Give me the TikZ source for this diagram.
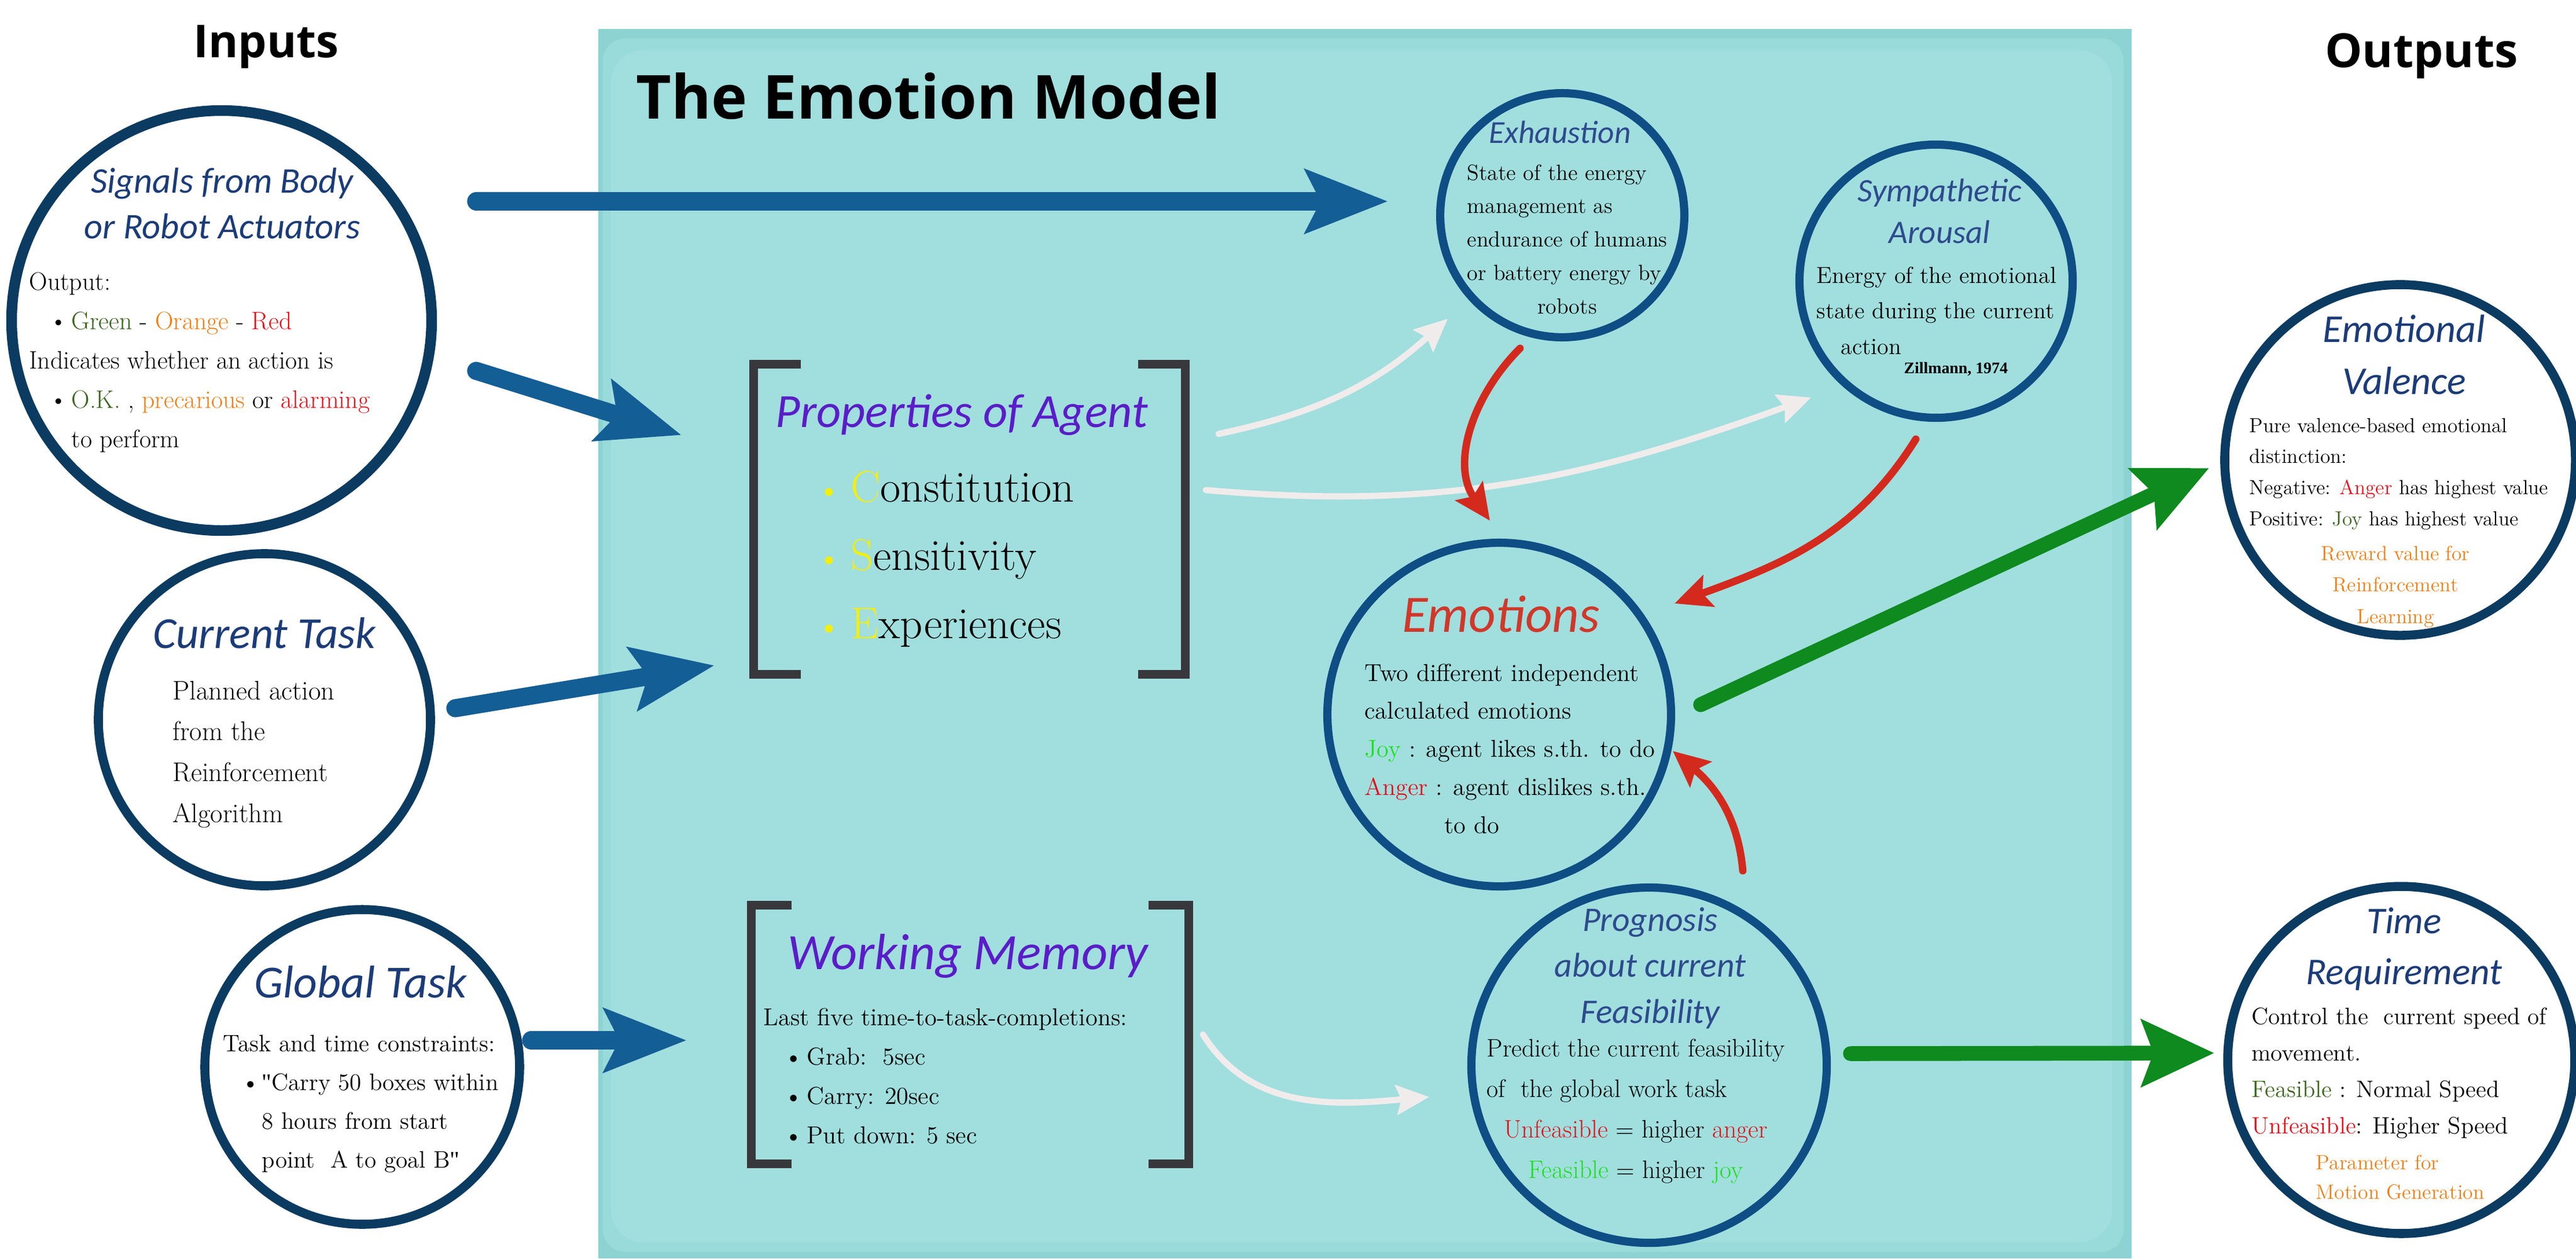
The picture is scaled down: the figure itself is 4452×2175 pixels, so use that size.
\documentclass[tikz,border=0pt]{standalone}
\usepackage{fontspec}
\usetikzlibrary{arrows.meta}
\newfontfamily\carl{Carlito}
\newfontfamily\osans{Open Sans}
\newfontfamily\tnr{Liberation Serif}
\newfontfamily\dqf{Liberation Serif}[Ligatures=TeXOff]
\newcommand{\tbl}[2][l]{\begin{tabular}[t]{@{}#1@{}}#2\end{tabular}}
\newcommand{\bul}[2]{\hspace*{#1}\makebox[#2][l]{\hspace*{-3.5pt}\textbullet}}
\newcommand{\ybul}{\makebox[16.2pt][l]{\hspace*{-5pt}\textcolor{yel}{\fontsize{22}{22}\selectfont\textbullet}}}
\newcommand{\bodyfx}[3]{\fontsize{#2}{#3}\selectfont\addfontfeatures{FakeBold=#1}}
\newcommand{\bodyf}[2]{\bodyfx{0.9}{#1}{#2}}
\newcommand{\sq}{{\dqf"}}
\definecolor{navyA}{HTML}{0B3B61}
\definecolor{navyB}{HTML}{0E4E84}
\definecolor{ttlA}{HTML}{1B3C78}
\definecolor{ttlB}{HTML}{2E4B8D}
\definecolor{purp}{HTML}{5A1DC8}
\definecolor{emored}{HTML}{D0382A}
\definecolor{rred}{HTML}{E3121B}
\definecolor{dgreen}{HTML}{3A661C}
\definecolor{lime}{HTML}{1EE01E}
\definecolor{orng}{HTML}{F07F12}
\definecolor{yel}{HTML}{F2EE10}
\definecolor{arrblue}{HTML}{145E96}
\definecolor{arrgreen}{HTML}{0E8A1E}
\definecolor{arrred}{HTML}{D42A1E}
\definecolor{arrwhite}{HTML}{F0ECEC}
\definecolor{tealin}{HTML}{A1DEDE}
\definecolor{tealmid}{HTML}{99DADA}
\definecolor{tealedge}{HTML}{8DD3D3}
\definecolor{brkc}{HTML}{38383C}
\begin{document}
\begin{tikzpicture}[x=0.35224pt,y=-0.35224pt,
  outring/.style={circle, draw=navyA, fill=white, line width=5.5pt, inner sep=0pt},
  inring/.style={circle, draw=navyB, line width=5pt, inner sep=0pt},
  ttl/.style={anchor=base, inner sep=0pt},
  txt/.style={anchor=base west, inner sep=0pt},
  brk/.style={draw=brkc, line width=5.3pt, line join=miter, line cap=butt},
  bluearr/.style={draw=arrblue, line width=11pt, line cap=round, -{Stealth[length=50pt,width=38pt,inset=9pt]}},
  greenarr/.style={draw=arrgreen, line width=9pt, line cap=round, -{Stealth[length=44pt,width=40pt,inset=7pt]}},
  redarr/.style={draw=arrred, line width=4.5pt, line cap=round, -{Stealth[length=22pt,width=20pt,inset=4pt]}},
  whitearr/.style={draw=arrwhite, line width=3.8pt, line cap=round, -{Stealth[length=20pt,width=18pt,inset=3pt]}},
  boxarea/.style={inner sep=0pt, draw=none}
]
\useasboundingbox (0,0) rectangle (4452,2175);
\fill[white] (0,0) rectangle (4452,2175);

% model area
\node[fill=tealedge, minimum width=933.4pt, minimum height=748.5pt, inner sep=0pt] (model) at (2359,1112.5) {};
\node[fill=tealmid, rounded corners=14pt, minimum width=926pt, minimum height=739pt, inner sep=0pt] (modelb) at (2356,1115) {};
\node[fill=tealin, rounded corners=20pt, minimum width=914pt, minimum height=726pt, inner sep=0pt] (modelc) at (2353,1117) {};
\node[txt, font=\osans\bfseries\fontsize{37}{40}\selectfont] (title) at (1099,205) {The Emotion Model};

\node[ttl, font=\osans\bfseries\fontsize{27.6}{30}\selectfont] (inputs) at (460,99) {Inputs};
\node[ttl, font=\osans\bfseries\fontsize{28.6}{30}\selectfont] (outputs) at (4185,116) {Outputs};

% ---------- input circles
\node[outring, line width=6.5pt, minimum size=255.7pt] (sig) at (383,554) {};
\node[ttl, text=ttlA, font=\carl\itshape\fontsize{22}{28}\selectfont] (sigt) at (384,333) {\tbl[c]{Signals from Body\\ or Robot Actuators}};
\node[txt, font=\bodyf{15.4}{24}] (sigb) at (50,501) {\tbl{Output:\\
\bul{15.9pt}{9.8pt}\textcolor{dgreen}{Green} - \textcolor{orng}{Orange} - \textcolor{rred}{Red}\\
Indicates whether an action is\\
\bul{15.9pt}{9.8pt}\textcolor{dgreen}{O.K.} , \textcolor{orng}{precarious} or \textcolor{rred}{alarming}\\
\hspace*{25.7pt}to perform}};

\node[outring, minimum size=202.2pt] (cur) at (457,1244) {};
\node[ttl, text=ttlA, font=\carl\itshape\fontsize{27}{30}\selectfont] (curt) at (457,1120) {Current Task};
\node[txt, font=\bodyf{16.4}{25}] (curb) at (298,1209) {\tbl{Planned action\\ from the\\ Reinforcement\\ Algorithm}};

\node[outring, minimum size=191.6pt] (glob) at (626,1844) {};
\node[ttl, text=ttlA, font=\carl\itshape\fontsize{28}{30}\selectfont] (globt) at (623,1724) {Global Task};
\node[txt, font=\bodyf{14.5}{23.6}] (globb) at (385,1817) {\tbl{Task and time constraints:\\
\bul{14.8pt}{8.8pt}\sq Carry 50 boxes within\\
\hspace*{23.6pt}8 hours from start\\
\hspace*{23.6pt}point\ \ A to goal B\sq}};

% ---------- bracket boxes
\node[boxarea, minimum width=262.4pt, minimum height=188.4pt] (props) at (1675.5,897.5) {};
\draw[brk] ([shift={(82,0)}]props.north west) -- (props.north west) -- (props.south west) -- ([shift={(82,0)}]props.south west);
\draw[brk] ([shift={(-82,0)}]props.north east) -- (props.north east) -- (props.south east) -- ([shift={(-82,0)}]props.south east);
\node[ttl, text=purp, font=\carl\itshape\fontsize{29}{32}\selectfont] (propst) at (1662,738) {Properties of Agent};
\node[txt, font=\bodyf{27}{41.6}] (propsb) at (1424,867) {\tbl{\ybul\textcolor{yel}{C}onstitution\\ \ybul\textcolor{yel}{S}ensitivity\\ \ybul\textcolor{yel}{E}xperiences}};

\node[boxarea, minimum width=265.9pt, minimum height=157.1pt] (wm) at (1676.5,1788) {};
\draw[brk] ([shift={(70,0)}]wm.north west) -- (wm.north west) -- (wm.south west) -- ([shift={(70,0)}]wm.south west);
\draw[brk] ([shift={(-70,0)}]wm.north east) -- (wm.north east) -- (wm.south east) -- ([shift={(-70,0)}]wm.south east);
\node[ttl, text=purp, font=\carl\itshape\fontsize{31}{34}\selectfont] (wmt) at (1673,1675) {Working Memory};
\node[txt, font=\bodyf{14.9}{24}] (wmb) at (1319,1772) {\tbl{Last five time-to-task-completions:\\
\bul{16.2pt}{10.2pt}Grab:\ \ 5sec\\
\bul{16.2pt}{10.2pt}Carry: 20sec\\
\bul{16.2pt}{10.2pt}Put down: 5 sec}};

% ---------- inner circles
\node[inring, minimum size=148.6pt] (exh) at (2700,372) {};
\node[ttl, text=ttlB, font=\carl\itshape\fontsize{19.5}{22}\selectfont] (exht) at (2696,247) {Exhaustion};
\node[txt, font=\bodyf{13.4}{20.4}] (exhb) at (2535,311) {\tbl{State of the energy\\ management as\\ endurance of humans\\ or battery energy by\\ \multicolumn{1}{@{}c@{}}{robots}}};

\node[inring, minimum size=166.3pt] (sym) at (3346,486) {};
\node[ttl, text=ttlB, font=\carl\itshape\fontsize{20}{25.7}\selectfont] (symt) at (3352,348) {\tbl[c]{Sympathetic\\ Arousal}};
\node[txt, font=\bodyf{14.1}{21.8}] (symb) at (3139,489) {\tbl{Energy of the emotional\\ state during the current\\ \hspace*{14.8pt}action}};
\node[txt, font=\tnr\bfseries\fontsize{9.8}{11}\selectfont] (zil) at (3290,645) {Zillmann, 1974};

\node[inring, minimum size=209.2pt] (emo) at (2591,1235) {};
\node[ttl, text=emored, font=\carl\itshape\fontsize{32}{34}\selectfont] (emot) at (2594,1092) {Emotions};
\node[txt, font=\bodyf{14.9}{23.2}] (emob) at (2358,1177) {\tbl{Two different independent\\ calculated emotions\\ \textcolor{lime}{Joy} : agent likes s.th. to do\\ \textcolor{rred}{Anger} : agent dislikes s.th.\\ \hspace*{48.6pt}to do}};

\node[inring, minimum size=216.3pt] (prog) at (2850,1841) {};
\node[ttl, text=ttlB, font=\carl\itshape\fontsize{21}{28}\selectfont] (progt) at (2852,1609) {\tbl[c]{Prognosis\\ about current\\ Feasibility}};
\node[txt, font=\bodyf{15.4}{24.7}] (progb) at (2569,1826) {\tbl{Predict the current feasibility\\ of\ \ the global work task\\
\multicolumn{1}{@{}c@{}}{\textcolor{rred}{Unfeasible} = higher \textcolor{rred}{anger}}\\
\multicolumn{1}{@{}c@{}}{\textcolor{lime}{Feasible} = higher \textcolor{lime}{joy}}}};

% ---------- output circles
\node[outring, minimum size=213.5pt] (val) at (4148,795) {};
\node[ttl, text=ttlA, font=\carl\itshape\fontsize{24}{32}\selectfont] (valt) at (4155,591) {\tbl[c]{Emotional\\ Valence}};
\node[txt, font=\bodyfx{1.5}{12.4}{19}] (valb) at (3887,747) {\tbl{Pure valence-based emotional\\ distinction:\\ Negative: \textcolor{rred}{Anger} has highest value\\ Positive: \textcolor{dgreen}{Joy} has highest value}};
\node[ttl, text=orng, font=\bodyfx{1.5}{12.4}{19.2}] (valo) at (4140,968) {\tbl[c]{Reward value for\\ Reinforcement\\ Learning}};

\node[outring, minimum size=211.3pt] (time) at (4150,1832) {};
\node[ttl, text=ttlA, font=\carl\itshape\fontsize{23}{31.3}\selectfont] (timet) at (4155,1613) {\tbl[c]{Time\\ Requirement}};
\node[txt, font=\bodyfx{1.3}{14.4}{22.2}] (timeb) at (3891,1770) {\tbl{Control the\ \ current speed of\\ movement.\\ \textcolor{dgreen}{Feasible} : Normal Speed\\ \textcolor{rred}{Unfeasible}: Higher Speed}};
\node[txt, text=orng, font=\bodyfx{1.3}{12.6}{18}] (timeo) at (4002,2021) {\tbl{Parameter for\\ Motion Generation}};

% ---------- arrow end points
\coordinate (b1s) at (823,348);   \coordinate (b1e) at (2399,348);
\coordinate (b2s) at (823,641);   \coordinate (b2e) at (1178,752);
\coordinate (b3s) at (787,1224);  \coordinate (b3e) at (1235,1150);
\coordinate (b4s) at (918,1798);  \coordinate (b4e) at (1187,1798);
\coordinate (g1s) at (2939,1218); \coordinate (g1e) at (3818,809);
\coordinate (g2s) at (3198,1821); \coordinate (g2e) at (3827,1820);
\coordinate (r1s) at (2627,602);  \coordinate (r1e) at (2575,900);
\coordinate (r2s) at (3311,759);  \coordinate (r2e) at (2894,1043);
\coordinate (r3s) at (3012,1505); \coordinate (r3e) at (2891,1298);
\coordinate (w1s) at (2106,750);  \coordinate (w1e) at (2502,551);
\coordinate (w2s) at (2084,847);  \coordinate (w2e) at (3130,687);
\coordinate (w3s) at (2079,1788); \coordinate (w3e) at (2470,1896);

% ---------- arrows
\draw[bluearr] (b1s) -- (b1e);
\draw[bluearr] (b2s) -- (b2e);
\draw[bluearr] (b3s) -- (b3e);
\draw[bluearr] (b4s) -- (b4e);
\draw[whitearr] (w1s) to[out=12, in=222] (w1e);
\draw[whitearr] (w2s) to[out=-5, in=200] (w2e);
\draw[whitearr] (w3s) to[out=-58, in=185] (w3e);
\draw[redarr] (r1s) to[out=225, in=125] (r1e);
\draw[redarr] (r2s) to[out=238, in=20] (r2e);
\draw[redarr] (r3s) to[out=95, in=-40] (r3e);
\draw[greenarr] (g1s) -- (g1e);
\draw[greenarr] (g2s) -- (g2e);
\end{tikzpicture}
\end{document}
